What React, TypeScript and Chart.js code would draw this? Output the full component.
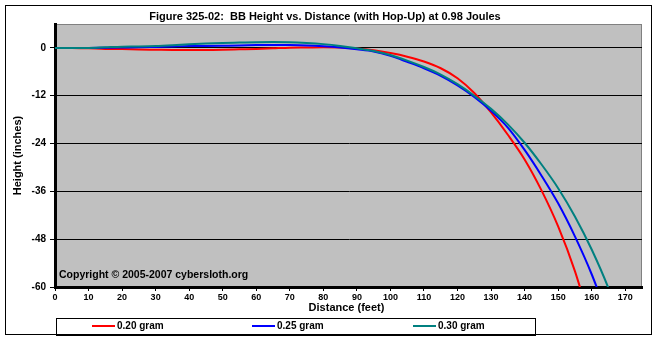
import React, { useEffect, useRef } from "react";
import { Chart, registerables } from "chart.js";

Chart.register(...registerables);

const distances = [0, 5, 10, 15, 20, 25, 30, 35, 40, 45, 50, 55, 60, 65, 70, 75, 80, 85, 90, 95, 100, 105, 110, 115, 120, 125, 130, 135, 140, 145, 150, 155, 160, 165, 170];
const height020 = [0, 0, -0.1, -0.25, -0.3, -0.4, -0.45, -0.5, -0.5, -0.5, -0.45, -0.35, -0.25, -0.1, 0.05, 0.1, 0.15, 0.1, -0.15, -0.6, -1.3, -2.2, -3.4, -5.1, -7.6, -11.3, -16.2, -21.8, -28.0, -35.7, -44.8, -56, -70, null, null];
const height025 = [0, 0, 0, 0.05, 0.1, 0.15, 0.25, 0.35, 0.45, 0.5, 0.55, 0.6, 0.7, 0.75, 0.7, 0.6, 0.4, 0.1, -0.35, -0.9, -2.0, -3.5, -5.1, -7.0, -9.4, -12.3, -15.8, -20.0, -25.6, -32.0, -39.0, -47.3, -56.8, -68.0, null];
const height030 = [0, 0, 0, 0.15, 0.3, 0.35, 0.45, 0.65, 0.9, 1.1, 1.25, 1.35, 1.45, 1.5, 1.45, 1.25, 0.95, 0.5, -0.1, -0.8, -1.8, -3.2, -4.8, -6.7, -9.1, -12.0, -15.3, -19.2, -23.8, -29.2, -35.2, -42.3, -50.6, -60.3, -72];
const seriesLabels = ["0.20 gram", "0.25 gram", "0.30 gram"];
const xTicks = [0, 10, 20, 30, 40, 50, 60, 70, 80, 90, 100, 110, 120, 130, 140, 150, 160, 170];
const yTicks = [0, -12, -24, -36, -48, -60];
const titleText = "Figure 325-02:  BB Height vs. Distance (with Hop-Up) at 0.98 Joules";
const xTitle = "Distance (feet)";
const yTitle = "Height (inches)";
const copyrightText = "Copyright \u00A9 2005-2007 cybersloth.org";

const COLORS = ["#FF0000", "#0000FF", "#008080"];
const FONT = '"Liberation Sans", Arial, sans-serif';

export default function App() {
  const ref = useRef<HTMLCanvasElement | null>(null);

  useEffect(() => {
    const canvas = ref.current;
    if (!canvas) return;
    const seriesData = [height020, height025, height030];

    const decor = {
      id: "decor",
      beforeDraw(chart: any) {
        const ctx = chart.ctx;
        const a = chart.chartArea;
        ctx.save();
        ctx.fillStyle = "#FFFFFF";
        ctx.fillRect(0, 0, chart.width, chart.height);
        ctx.fillStyle = "#C0C0C0";
        ctx.fillRect(a.left, a.top, a.right - a.left, a.bottom - a.top);
        ctx.strokeStyle = "#808080";
        ctx.lineWidth = 1;
        ctx.strokeRect(a.left + 0.5, a.top + 0.5, a.right - a.left - 1, a.bottom - a.top);
        ctx.restore();
      },
      afterDraw(chart: any) {
        const ctx = chart.ctx;
        const a = chart.chartArea;
        ctx.save();
        ctx.strokeStyle = "#000";
        ctx.lineWidth = 1;
        ctx.strokeRect(5.5, 5.5, 646, 329);
        ctx.fillStyle = "#000";
        ctx.font = `bold 11px ${FONT}`;
        ctx.textAlign = "center";
        ctx.textBaseline = "alphabetic";
        ctx.fillText(titleText, 325, 19.5);
        ctx.textBaseline = "middle";
        ctx.fillText(xTitle, (a.left + a.right) / 2 - 2, 308);
        ctx.save();
        ctx.translate(18, (a.top + a.bottom) / 2);
        ctx.rotate(-Math.PI / 2);
        ctx.fillText(yTitle, 0, 0);
        ctx.restore();
        ctx.textAlign = "left";
        ctx.textBaseline = "alphabetic";
        ctx.font = `bold 10.5px ${FONT}`;
        ctx.fillText(copyrightText, a.left + 4, 277.5);
        ctx.strokeStyle = "#000";
        ctx.lineWidth = 1;
        ctx.strokeRect(56.5, 318.5, 479, 17);
        const lx = [92, 252, 413];
        ctx.font = `bold 10px ${FONT}`;
        ctx.textBaseline = "middle";
        for (let i = 0; i < 3; i++) {
          ctx.strokeStyle = COLORS[i];
          ctx.lineWidth = 2;
          ctx.beginPath();
          ctx.moveTo(lx[i], 326);
          ctx.lineTo(lx[i] + 23, 326);
          ctx.stroke();
          ctx.fillStyle = "#000";
          ctx.fillText(seriesLabels[i], lx[i] + 25, 326.5);
        }
        ctx.restore();
      },
    };

    const chart = new Chart(canvas, {
      type: "line",
      data: {
        datasets: seriesData.map((ys, i) => ({
          label: seriesLabels[i],
          data: distances.map((d, j) => ({ x: d, y: ys[j] })),
          borderColor: COLORS[i],
          backgroundColor: COLORS[i],
          borderWidth: 2,
          pointRadius: 0,
          cubicInterpolationMode: "monotone",
          fill: false,
          spanGaps: false,
          order: 3 - i,
        })),
      },
      options: {
        animation: false,
        responsive: false,
        devicePixelRatio: 1,
        layout: { padding: { top: 24, right: 15, left: 0, bottom: 0 } },
        plugins: {
          legend: { display: false },
          title: { display: false },
          tooltip: { enabled: false },
        },
        scales: {
          x: {
            type: "linear",
            min: 0,
            max: 175,
            afterBuildTicks: (s: any) => {
              s.ticks = xTicks.map((v) => ({ value: v }));
            },
            afterFit: (s: any) => {
              s.height = 53;
            },
            grid: {
              drawOnChartArea: false,
              drawTicks: true,
              tickLength: 4,
              color: "#000",
              lineWidth: 1,
            },
            border: { display: true, color: "#000", width: 3 },
            ticks: {
              autoSkip: false,
              maxRotation: 0,
              padding: 1,
              color: "#000",
              font: { family: FONT, size: 9, weight: "bold" },
            },
          },
          y: {
            type: "linear",
            min: -60,
            max: 6,
            afterBuildTicks: (s: any) => {
              s.ticks = yTicks.map((v) => ({ value: v }));
            },
            afterFit: (s: any) => {
              s.width = 55;
            },
            grid: {
              drawOnChartArea: true,
              drawTicks: true,
              tickLength: 5,
              color: "#000",
              lineWidth: 1,
            },
            border: { display: true, color: "#000", width: 3 },
            ticks: {
              autoSkip: false,
              padding: 4,
              color: "#000",
              font: { family: FONT, size: 10, weight: "bold" },
            },
          },
        },
      },
      plugins: [decor],
    } as any);

    return () => chart.destroy();
  }, []);

  return (
    <div style={{ position: "fixed", left: 0, top: 0, width: 657, height: 340, background: "#fff" }}>
      <canvas ref={ref} width={657} height={340} style={{ width: 657, height: 340, display: "block" }} />
    </div>
  );
}
